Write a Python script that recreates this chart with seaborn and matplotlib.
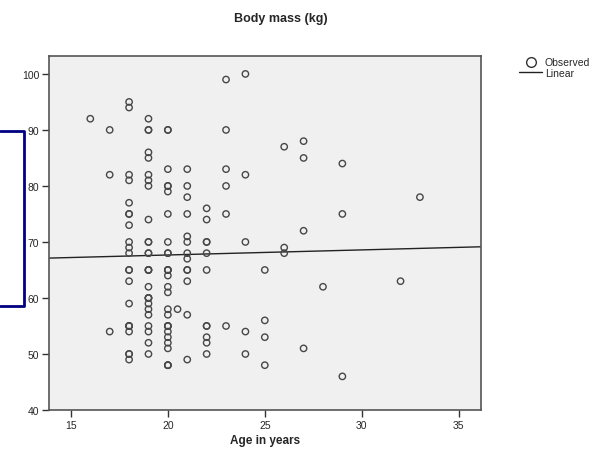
import numpy as np
import pandas as pd
import matplotlib
matplotlib.use("Agg")
import matplotlib.pyplot as plt
from matplotlib.lines import Line2D
import seaborn as sns

# --- data (bold rings = repeated values) ---
age_16 = [92]
age_17 = [90, 82, 54]
age_18 = [95, 94, 82, 81, 77, 75, 75, 73, 70, 69, 68, 65, 65, 63, 59, 55, 55, 55, 54,
          50, 50, 49]
age_19 = [92, 90, 90, 86, 85, 82, 81, 80, 74, 70, 70, 68, 68, 65, 65, 65, 62, 60, 60, 60,
          59, 58, 57, 55, 54, 52, 50]
age_20 = [90, 90, 83, 80, 80, 79, 75, 70, 68, 68, 65, 65, 65, 64, 62, 61, 58, 57, 55, 55,
          55, 54, 53, 52, 51, 48, 48, 48]
age_20_5 = [58]
age_21 = [83, 80, 78, 75, 71, 70, 68, 67, 65, 65, 63, 57, 49]
age_22 = [76, 74, 70, 70, 68, 65, 55, 55, 53, 52, 50]
age_23 = [99, 90, 83, 80, 75, 55]
age_24 = [100, 82, 70, 54, 50]
age_25 = [65, 56, 53, 48]
age_26 = [87, 69, 68]
age_27 = [88, 85, 72, 51]
age_28 = [62]
age_29 = [84, 75, 46]
age_32 = [63]
age_33 = [78]

groups = {16: age_16, 17: age_17, 18: age_18, 19: age_19, 20: age_20, 20.5: age_20_5,
          21: age_21, 22: age_22, 23: age_23, 24: age_24, 25: age_25, 26: age_26,
          27: age_27, 28: age_28, 29: age_29, 32: age_32, 33: age_33}

rows = [(a, m) for a, ms in groups.items() for m in ms]
df = pd.DataFrame(rows, columns=["age", "mass"])

# --- figure ---
sns.set_style("ticks")
plt.rcParams["font.family"] = ["Liberation Sans", "DejaVu Sans"]

fig = plt.figure(figsize=(5.99, 4.52), dpi=100)
ax = fig.add_axes([49 / 599, 1 - 411 / 452, (481 - 49) / 599, (411 - 57) / 452])
ax.set_facecolor("#F0F0F0")
ax.set_xlim(13.87, 36.15)
ax.set_ylim(40, 103.2)

sns.scatterplot(data=df, x="age", y="mass", ax=ax, marker="o", s=21,
                facecolors="none", edgecolor="#474747", linewidth=1.0, zorder=3)
sns.regplot(data=df, x="age", y="mass", ax=ax, scatter=False, ci=None, truncate=False,
            line_kws=dict(color="#222222", lw=1.0))

ax.set_xlim(13.87, 36.15)
ax.set_ylim(40, 103.2)
ax.set_xticks([15, 20, 25, 30, 35])
ax.set_yticks([40, 50, 60, 70, 80, 90, 100])
ax.tick_params(axis="both", labelsize=7.5, length=5, width=1, color="#333333", pad=2)
for s in ax.spines.values():
    s.set_color("#555555")
    s.set_linewidth(1.2)

ax.set_xlabel("Age in years", fontsize=8.5, fontweight="bold", labelpad=3)
ax.set_ylabel("")

fig.text(281 / 599, 1 - 19 / 452, "Body mass (kg)", ha="center", va="center",
         fontsize=9, fontweight="bold")

handles = [Line2D([], [], marker="o", ls="none", markerfacecolor="none",
                  markeredgecolor="#333333", markersize=7),
           Line2D([], [], color="#222222", lw=1.0)]
fig.legend(handles, ["Observed", "Linear"], loc="upper left",
           bbox_to_anchor=(514 / 599, 1 - 53 / 452), frameon=False, fontsize=7.5,
           handlelength=2.2, handletextpad=0.25, labelspacing=0.08, borderpad=0)

# navy bracket at the left edge
fig.add_artist(Line2D([0, 24 / 599, 24 / 599, 0],
                      [1 - 132 / 452, 1 - 132 / 452, 1 - 307 / 452, 1 - 307 / 452],
                      color="#000080", lw=2))

fig.savefig("out.png", dpi=100)
